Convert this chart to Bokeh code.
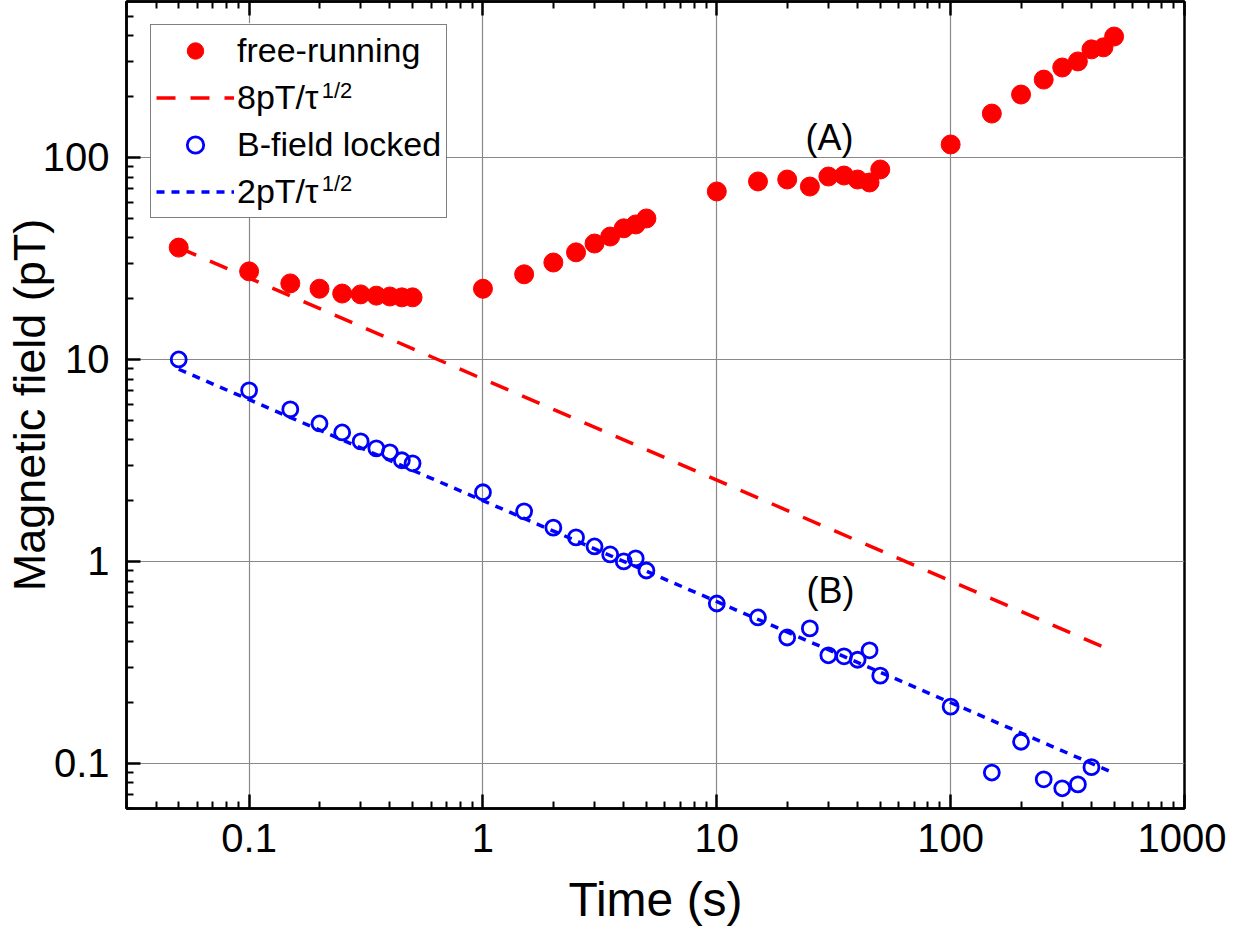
import numpy as np
from bokeh.plotting import figure
from bokeh.models import (LogAxis, FixedTicker, CustomJSTickFormatter, Legend,
                          LegendItem, Label, ColumnDataSource, BoxAnnotation)
from bokeh.embed import file_html
from bokeh.resources import INLINE

# ---------------- data ----------------
time_free = [0.05, 0.1, 0.15, 0.2, 0.25, 0.3, 0.35, 0.4, 0.45, 0.5,
             1, 1.5, 2, 2.5, 3, 3.5, 4, 4.5, 5,
             10, 15, 20, 25, 30, 35, 40, 45, 50,
             100, 150, 200, 250, 300, 350, 400, 450, 500]
free_running = [35.8, 27.3, 23.8, 22.4, 21.2, 21.0, 20.7, 20.5, 20.3, 20.3,
                22.4, 26.4, 30.2, 33.9, 37.5, 40.6, 44.6, 46.6, 49.9,
                67.9, 76.1, 77.8, 71.8, 80.5, 81.4, 77.8, 75.2, 87.2,
                116, 165, 205, 243, 279, 299, 343, 351, 397]

time_locked = [0.05, 0.1, 0.15, 0.2, 0.25, 0.3, 0.35, 0.4, 0.45, 0.5,
               1, 1.5, 2, 2.5, 3, 3.5, 4, 4.5, 5,
               10, 15, 20, 25, 30, 35, 40, 45, 50,
               100, 150, 200, 250, 300, 350, 400]
b_locked = [10.0, 7.03, 5.66, 4.82, 4.35, 3.93, 3.63, 3.47, 3.17, 3.06,
            2.20, 1.77, 1.47, 1.315, 1.186, 1.083, 1.00, 1.035, 0.902,
            0.619, 0.528, 0.420, 0.466, 0.343, 0.339, 0.326, 0.363, 0.272,
            0.191, 0.0901, 0.128, 0.0834, 0.0753, 0.0787, 0.0958]

fit_time = [0.05, 500]
fit_coef_free = 8.0     # pT / tau^(1/2)
fit_coef_locked = 2.0   # pT / tau^(1/2)

x_major = [0.1, 1, 10, 100, 1000]
x_minor = [m * 10.0 ** e for e in range(-2, 3) for m in range(2, 10)]
y_major = [0.1, 1, 10, 100]
y_minor = [m * 10.0 ** e for e in range(-2, 3) for m in range(2, 10)]

fit_free = [fit_coef_free / np.sqrt(t) for t in fit_time]
fit_locked = [fit_coef_locked / np.sqrt(t) for t in fit_time]

# ---------------- figure ----------------
FONT = "Liberation Sans"
RED = "#ff0000"
BLUE = "#0000ff"

p = figure(x_axis_type="log", y_axis_type="log",
           x_range=(0.0299, 1000), y_range=(0.0598, 592),
           width=1226, height=930,
           min_border_left=120, min_border_right=42,
           min_border_top=1, min_border_bottom=122,
           output_backend="svg", toolbar_location=None,
           background_fill_color="white", border_fill_color="white")

p.outline_line_color = "black"
p.outline_line_width = 2.5

fmt = CustomJSTickFormatter(code="return (Math.round(tick*1000)/1000).toString();")
blank = CustomJSTickFormatter(code="return '';")

xt = FixedTicker(ticks=x_major, minor_ticks=x_minor)
yt = FixedTicker(ticks=y_major, minor_ticks=y_minor)

xa = p.xaxis[0]
xa.ticker = xt
xa.formatter = fmt
ya = p.yaxis[0]
ya.ticker = yt
ya.formatter = fmt

for ax in (xa, ya):
    ax.axis_line_width = 2.5
    ax.major_tick_line_width = 2.5
    ax.minor_tick_line_width = 2.0
    ax.major_tick_in = 14
    ax.major_tick_out = 0
    ax.minor_tick_in = 7
    ax.minor_tick_out = 0
    ax.major_label_text_font = FONT
    ax.major_label_text_font_size = "40px"
    ax.major_label_text_color = "black"
    ax.axis_label_text_font = FONT
    ax.axis_label_text_font_style = "normal"
    ax.axis_label_text_color = "black"

xa.axis_label = "Time (s)"
xa.axis_label_text_font_size = "48px"
xa.major_label_standoff = 15
xa.axis_label_standoff = 18
ya.axis_label = "Magnetic field (pT)"
ya.axis_label_text_font_size = "45px"
ya.major_label_standoff = 17
ya.axis_label_standoff = -15

top = LogAxis(ticker=FixedTicker(ticks=x_major, minor_ticks=x_minor),
              formatter=blank,
              axis_line_width=2.5, major_tick_line_width=2.5,
              minor_tick_line_width=2.0, major_tick_in=14, major_tick_out=0,
              minor_tick_in=7, minor_tick_out=0,
              major_label_standoff=0)
p.add_layout(top, "above")

p.xgrid.ticker = FixedTicker(ticks=x_major)
p.ygrid.ticker = FixedTicker(ticks=y_major)
for g in (p.xgrid[0], p.ygrid[0]):
    g.grid_line_color = "#888888"
    g.grid_line_width = 1.2

# ---------------- glyphs ----------------
src_free = ColumnDataSource(dict(t=time_free, b=free_running))
src_locked = ColumnDataSource(dict(t=time_locked, b=b_locked))
src_fit = ColumnDataSource(dict(t=fit_time, f=fit_free, l=fit_locked))

r_fit_free = p.line("t", "f", source=src_fit, line_color=RED, line_width=3.5,
                    line_dash="19 15")
r_fit_locked = p.line("t", "l", source=src_fit, line_color=BLUE, line_width=3.5,
                      line_dash="8 7")
r_free = p.scatter("t", "b", source=src_free, marker="circle", size=19,
                   fill_color=RED, line_color=RED, line_width=1)
r_locked = p.scatter("t", "b", source=src_locked, marker="circle", size=15,
                     fill_color=None, line_color=BLUE, line_width=2.8)

# white background behind the (transparent) legend box
p.add_layout(BoxAnnotation(left=0.0377, right=0.70, top=462, bottom=50.2,
                           fill_color="white", fill_alpha=1.0,
                           line_color=None, level="annotation"))

legend = Legend(items=[
    LegendItem(label="free-running", renderers=[r_free]),
    LegendItem(label="8pT/\u03c4", renderers=[r_fit_free]),
    LegendItem(label="B-field locked", renderers=[r_locked]),
    LegendItem(label="2pT/\u03c4", renderers=[r_fit_locked]),
], location=(24, 590))
legend.label_text_font = FONT
legend.label_text_font_size = "34px"
legend.label_text_color = "black"
legend.glyph_width = 78
legend.glyph_height = 41
legend.label_height = 41
legend.spacing = 6
legend.padding = 5
legend.margin = 0
legend.label_standoff = 3
legend.border_line_color = "black"
legend.border_line_width = 1.5
legend.background_fill_alpha = 0.0
p.add_layout(legend)

# superscript "1/2" of the two legend entries (tau^(1/2))
sup_x = 0.2043
for sup_y in (215, 74.3):
    p.add_layout(Label(x=sup_x, y=sup_y, text="1/2", text_font=FONT,
                       text_font_size="22px", text_color="black",
                       text_baseline="alphabetic", level="overlay"))

p.add_layout(Label(x=30.3, y=126, text="(A)", text_font=FONT,
                   text_font_size="36px", text_align="center",
                   text_baseline="middle", text_color="black"))
p.add_layout(Label(x=30.6, y=0.718, text="(B)", text_font=FONT,
                   text_font_size="36px", text_align="center",
                   text_baseline="middle", text_color="black"))

open("out.html", "w").write(file_html(p, INLINE))
